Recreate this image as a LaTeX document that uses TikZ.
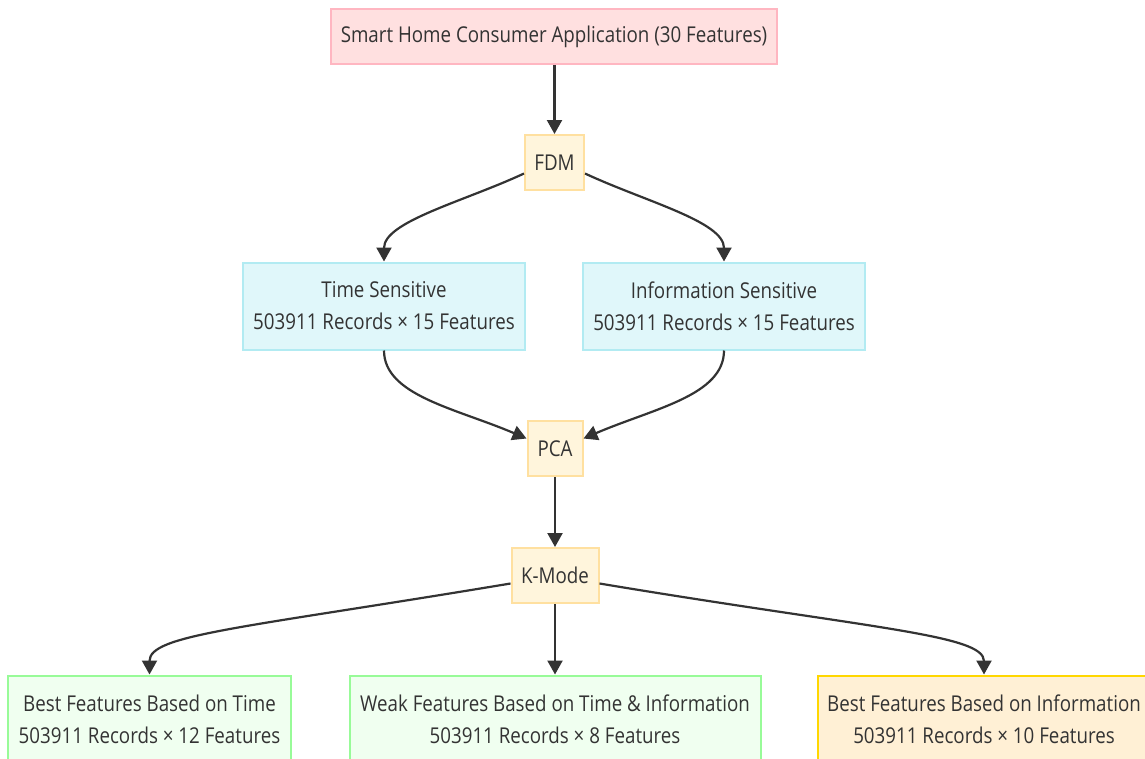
\documentclass[tikz,border=0pt]{standalone}
\usepackage{fontspec}
\setmainfont{Open Sans}[FakeStretch=0.86]
\usetikzlibrary{arrows.meta}
\definecolor{ink}{HTML}{333333}
\definecolor{pinkfill}{HTML}{FFE0E0}
\definecolor{pinkline}{HTML}{FFB6C1}
\definecolor{creamfill}{HTML}{FFF5DC}
\definecolor{creamline}{HTML}{FFE0A0}
\definecolor{cyanfill}{HTML}{E0F7FA}
\definecolor{cyanline}{HTML}{B2EBF2}
\definecolor{greenfill}{HTML}{F0FFF0}
\definecolor{greenline}{HTML}{98FB98}
\definecolor{goldfill}{HTML}{FFF0D5}
\definecolor{goldline}{HTML}{FFD700}
\tikzset{
  box/.style={draw, line width=2pt, inner sep=0pt, align=center, text=ink,
    font=\fontsize{21.8}{32}\selectfont},
  source/.style={box, fill=pinkfill, draw=pinkline},
  method/.style={box, fill=creamfill, draw=creamline, minimum height=55pt},
  split/.style={box, fill=cyanfill, draw=cyanline, minimum width=282pt, minimum height=87pt},
  result/.style={box, fill=greenfill, draw=greenline, minimum height=87pt},
  bestinfo/.style={box, fill=goldfill, draw=goldline, minimum height=87pt},
  flow/.style={draw=ink, line width=2.2pt, -{Triangle[length=14pt,width=15pt]}}
}
\begin{document}
\begin{tikzpicture}[x=1pt,y=-1pt]
\useasboundingbox[fill=white] (0,0) rectangle (1145,758);
\begin{scope}
\clip (0,0) rectangle (1145,758);
\node[source, minimum width=446pt, minimum height=55pt] (app) at (554,36.5) {Smart Home Consumer Application (30 Features)};
\node[method, minimum width=59pt] (fdm) at (554.5,162.5) {FDM};
\node[split] (time) at (384,306) {Time Sensitive\\503911 Records × 15 Features};
\node[split] (info) at (724,306) {Information Sensitive\\503911 Records × 15 Features};
\node[method, minimum width=55pt] (pca) at (555,448.5) {PCA};
\node[method, minimum width=87pt] (kmode) at (555,575.5) {K-Mode};
\node[result, minimum width=283pt] (besttime) at (149.5,719) {Best Features Based on Time\\503911 Records × 12 Features};
\node[result, minimum width=411pt] (weak) at (555,719) {Weak Features Based on Time \& Information\\503911 Records × 8 Features};
\node[bestinfo, minimum width=332pt] (bestinfo) at (984,719) {Best Features Based on Information\\503911 Records × 10 Features};

\draw[flow] (app.south -| fdm.north) -- (fdm.north);
\draw[flow] ([yshift=-11pt]fdm.west) .. controls +(-60,28) and +(0,-40) .. (time.north);
\draw[flow] ([yshift=-11pt]fdm.east) .. controls +(60,28) and +(0,-40) .. (info.north);
\draw[flow] (time.south) .. controls +(0,45) and +(-70,-30) .. ([yshift=10pt]pca.west);
\draw[flow] (info.south) .. controls +(0,45) and +(70,-30) .. ([yshift=10pt]pca.east);
\draw[flow] (pca.south) -- (kmode.north);
\draw[flow] ([yshift=-8pt]kmode.west) .. controls +(-270,45) and +(0,-40) .. (besttime.north);
\draw[flow] (kmode.south) -- (weak.north);
\draw[flow] ([yshift=-8pt]kmode.east) .. controls +(270,45) and +(0,-40) .. (bestinfo.north);
\end{scope}
\end{tikzpicture}
\end{document}
